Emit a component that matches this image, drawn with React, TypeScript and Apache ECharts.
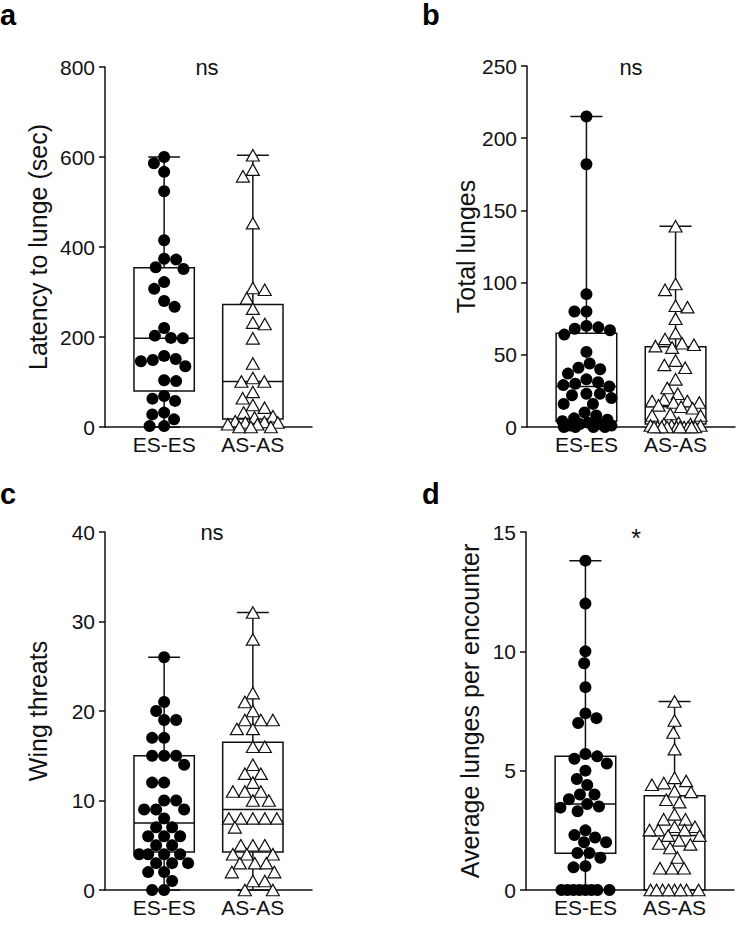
import React, { useEffect, useRef } from "react";
import * as echarts from "echarts";

const groupLabels = ["ES-ES", "AS-AS"];

// Panel a: latency to lunge (sec)
const latencyTicks = [0, 200, 400, 600, 800];
const latencyES = [600, 586, 567, 524, 415, 374, 372, 355, 351, 322, 307, 280, 267, 220, 203, 198, 197, 158, 151, 149, 146, 135, 104, 102, 69, 63, 58, 32, 28, 17, 2, 2];
const latencyAS = [604, 572, 557, 453, 309, 305, 286, 263, 232, 229, 197, 141, 109, 101, 101, 78, 64, 49, 43, 32, 24, 21, 13, 11, 10, 10, 6, 6, 0, 0, 0];
const latencyBoxES = [0, 80, 197, 354, 600]; // min, q1, median, q3, max
const latencyBoxAS = [0, 18, 101, 272, 604];

// Panel b: total lunges
const lungesTicks = [0, 50, 100, 150, 200, 250];
const lungesES = [215, 182, 92, 80, 80, 70, 69, 68, 67, 64, 52, 44, 41, 40, 37, 33, 31, 30, 29, 28, 23, 23, 22, 20, 16, 16, 10, 8, 6, 5, 4, 3, 2, 2, 1, 1, 0, 0, 0, 0];
const lungesAS = [139, 99, 95, 84, 83, 75, 65, 61, 58, 57, 56, 55, 46, 43, 41, 33, 27, 23, 19, 18, 18, 17, 17, 15, 14, 13, 9, 8, 8, 3, 2, 2, 1, 1, 1, 0, 0, 0, 0, 0, 0, 0, 0, 0, 0];
const lungesBoxES = [0, 4, 28, 65, 215];
const lungesBoxAS = [0, 2, 14, 55.5, 139];

// Panel c: wing threats
const threatTicks = [0, 10, 20, 30, 40];
const threatES = [26, 21, 20, 19, 19, 17, 17, 15, 15, 15, 14, 12, 12, 10, 10, 9, 9, 9, 8, 7, 7, 6, 6, 6, 5, 5, 4, 4, 4, 4, 3, 3, 3, 2, 2, 1, 0, 0];
const threatAS = [31, 28, 22, 21, 20, 19, 19, 19, 18, 18, 16, 16, 14, 13, 13, 12, 11, 11, 11, 10, 10, 8, 8, 8, 8, 8, 7, 5, 5, 5, 4, 4, 4, 3, 3, 3, 2, 2, 1, 1, 0, 0];
const threatBoxES = [0, 4.25, 7.5, 15, 26];
const threatBoxAS = [0, 4.25, 9, 16.5, 31];

// Panel d: average lunges per encounter
const avgTicks = [0, 5, 10, 15];
const avgES = [13.8, 12.0, 10.0, 9.5, 8.5, 7.4, 7.2, 7.0, 5.7, 5.6, 5.5, 5.3, 5.0, 4.65, 4.4, 4.0, 4.0, 3.8, 3.6, 3.5, 3.45, 3.3, 2.5, 2.3, 2.2, 2.0, 2.0, 1.55, 1.55, 1.35, 1.0, 0.95, 0, 0, 0, 0, 0, 0, 0, 0];
const avgAS = [7.9, 7.1, 6.6, 5.9, 4.7, 4.57, 4.48, 4.41, 4.14, 4.11, 3.78, 3.68, 3.17, 2.96, 2.96, 2.65, 2.65, 2.51, 2.51, 2.51, 2.28, 2.28, 2.08, 1.95, 1.91, 1.76, 1.36, 0.91, 0.91, 0.91, 0, 0, 0, 0, 0, 0, 0, 0];
const avgBoxES = [0, 1.54, 3.6, 5.6, 13.8];
const avgBoxAS = [0, 0, 2.28, 3.95, 7.9];

const INK = "#111111";
const FONT = "Liberation Sans, Arial, Helvetica, sans-serif";
const X_MIN = 1 / 3;
const X_MAX = 8 / 3;
const BOX_W = 0.68;
const CAP_W = 0.36;

type Panel = {
  letter: string; yName: string; ticks: number[];
  es: number[]; as: number[]; boxES: number[]; boxAS: number[];
  sig: string; left: number; top: number; width: number; height: number;
  nameGap: number; sigX: number; sigY: number; letterX: number; letterY: number;
};

const panels: Panel[] = [
  { letter: "a", yName: "Latency to lunge (sec)", ticks: latencyTicks, es: latencyES, as: latencyAS, boxES: latencyBoxES, boxAS: latencyBoxAS, sig: "ns",
    left: 105, top: 67, width: 207, height: 360, nameGap: 55, sigX: 207, sigY: 67, letterX: 0, letterY: 15 },
  { letter: "b", yName: "Total lunges", ticks: lungesTicks, es: lungesES, as: lungesAS, boxES: lungesBoxES, boxAS: lungesBoxAS, sig: "ns",
    left: 527, top: 66, width: 208, height: 361, nameGap: 44, sigX: 631, sigY: 67, letterX: 422, letterY: 15 },
  { letter: "c", yName: "Wing threats", ticks: threatTicks, es: threatES, as: threatAS, boxES: threatBoxES, boxAS: threatBoxAS, sig: "ns",
    left: 105, top: 532, width: 207, height: 358, nameGap: 55, sigX: 212, sigY: 532, letterX: 0, letterY: 494 },
  { letter: "d", yName: "Average lunges per encounter", ticks: avgTicks, es: avgES, as: avgAS, boxES: avgBoxES, boxAS: avgBoxAS, sig: "*",
    left: 526, top: 532, width: 208, height: 358, nameGap: 44, sigX: 636, sigY: 538, letterX: 422, letterY: 494 },
];

// Greedy beeswarm: horizontal offsets (in x-axis units) so symbols don't overlap.
function swarm(values: number[], pxX: number, pxY: number, diam: number, cap: number): number[] {
  const placed: { x: number; y: number }[] = [];
  const out: number[] = [];
  let toggle = -1;
  for (const v of values) {
    const y = v * pxY;
    const intervals: [number, number][] = [];
    for (const p of placed) {
      const dy = Math.abs(p.y - y);
      if (dy < diam) {
        const w = Math.sqrt(diam * diam - dy * dy);
        intervals.push([p.x - w, p.x + w]);
      }
    }
    const cands: number[] = [0];
    intervals.forEach(([a, b]) => cands.push(a, b));
    const free = cands.filter(
      (c) => Math.abs(c) <= cap + 1e-6 && intervals.every(([a, b]) => c <= a + 1e-6 || c >= b - 1e-6)
    );
    let best = 0;
    if (free.length) {
      free.sort((m, n) => {
        const d = Math.abs(m) - Math.abs(n);
        if (Math.abs(d) > 1e-6) return d;
        return toggle < 0 ? m - n : n - m;
      });
      best = free[0];
      if (Math.abs(best) > 1e-6) toggle = -toggle;
    } else {
      let bestScore = -1;
      for (let c = -cap; c <= cap + 1e-6; c += 0.5) {
        let md = Infinity;
        for (const p of placed) {
          const d = Math.hypot(p.x - c, p.y - y);
          if (d < md) md = d;
        }
        if (md > bestScore + 1e-9) { bestScore = md; best = c; }
      }
    }
    placed.push({ x: best, y });
    out.push(best / pxX);
  }
  return out;
}

function buildOption() {
  const grid: any[] = [];
  const xAxis: any[] = [];
  const yAxis: any[] = [];
  const series: any[] = [];
  const graphic: any[] = [];

  panels.forEach((p, i) => {
    const yMax = p.ticks[p.ticks.length - 1];
    const yInterval = p.ticks[1] - p.ticks[0];
    grid.push({ left: p.left, top: p.top, width: p.width, height: p.height, containLabel: false });
    xAxis.push({
      type: "value", gridIndex: i, min: X_MIN, max: X_MAX, interval: 1 / 3,
      axisLine: { show: true, lineStyle: { color: INK, width: 1.5 } },
      axisTick: { show: false }, splitLine: { show: false },
      axisLabel: {
        show: true, margin: 7, fontSize: 21, color: INK, fontFamily: FONT,
        showMinLabel: true, showMaxLabel: true,
        formatter: (v: number) => (Math.abs(v - 1) < 1e-6 ? groupLabels[0] : Math.abs(v - 2) < 1e-6 ? groupLabels[1] : ""),
      },
    });
    yAxis.push({
      type: "value", gridIndex: i, min: 0, max: yMax, interval: yInterval,
      axisLine: { show: true, lineStyle: { color: INK, width: 1.5 } },
      axisTick: { show: true, length: 6, lineStyle: { color: INK, width: 1.5 } },
      splitLine: { show: false },
      axisLabel: { fontSize: 21, color: INK, fontFamily: FONT, margin: 10 },
      name: p.yName, nameLocation: "middle", nameGap: p.nameGap,
      nameTextStyle: { fontSize: 25, color: INK, fontFamily: FONT },
    });

    const pxX = p.width / (X_MAX - X_MIN);
    const pxY = p.height / yMax;

    series.push({
      type: "custom", xAxisIndex: i, yAxisIndex: i, z: 1, silent: true,
      data: [[1, ...p.boxES], [2, ...p.boxAS]],
      encode: { x: 0, y: [1, 2, 3, 4, 5] },
      renderItem: (_params: any, api: any) => {
        const x = api.value(0);
        const vals = [1, 2, 3, 4, 5].map((k) => api.value(k));
        const [pMin, pQ1, pMd, pQ3, pMx] = vals.map((v) => api.coord([x, v]));
        const halfW = api.size([BOX_W, 0])[0] / 2;
        const capHalf = api.size([CAP_W, 0])[0] / 2;
        const cx = pMin[0];
        const style = { stroke: INK, lineWidth: 1.5, fill: null };
        return {
          type: "group",
          children: [
            { type: "line", shape: { x1: cx, y1: pMx[1], x2: cx, y2: pQ3[1] }, style },
            { type: "line", shape: { x1: cx, y1: pQ1[1], x2: cx, y2: pMin[1] }, style },
            { type: "line", shape: { x1: cx - capHalf, y1: pMx[1], x2: cx + capHalf, y2: pMx[1] }, style },
            { type: "line", shape: { x1: cx - capHalf, y1: pMin[1], x2: cx + capHalf, y2: pMin[1] }, style },
            { type: "rect", shape: { x: cx - halfW, y: pQ3[1], width: 2 * halfW, height: pQ1[1] - pQ3[1] }, style },
            { type: "line", shape: { x1: cx - halfW, y1: pMd[1], x2: cx + halfW, y2: pMd[1] }, style },
          ],
        };
      },
    });

    const offES = swarm(p.es, pxX, pxY, 12, 25);
    const offAS = swarm(p.as, pxX, pxY, 12, 25);
    series.push({
      type: "scatter", xAxisIndex: i, yAxisIndex: i, z: 3, clip: false, silent: true,
      symbol: "circle", symbolSize: 12,
      itemStyle: { color: "#000000", opacity: 1 },
      data: p.es.map((v, k) => [1 + offES[k], v]),
    });
    series.push({
      type: "scatter", xAxisIndex: i, yAxisIndex: i, z: 4, clip: false, silent: true,
      symbol: "triangle", symbolSize: [13, 11.5],
      itemStyle: { color: "#ffffff", borderColor: INK, borderWidth: 1.2, opacity: 1 },
      data: p.as.map((v, k) => [2 + offAS[k], v]),
    });

    graphic.push({
      type: "text", x: p.letterX, y: p.letterY,
      style: { text: p.letter, fontSize: 29, fontWeight: "bold", fill: "#000", fontFamily: FONT, verticalAlign: "middle", textVerticalAlign: "middle" },
    });
    graphic.push({
      type: "text", x: p.sigX, y: p.sigY,
      style: { text: p.sig, fontSize: p.sig === "*" ? 25 : 22, fill: INK, fontFamily: FONT, align: "center", verticalAlign: "middle", textAlign: "center", textVerticalAlign: "middle" },
    });
  });

  return {
    animation: false,
    backgroundColor: "#ffffff",
    textStyle: { fontFamily: FONT },
    grid, xAxis, yAxis, series, graphic,
  };
}

export default function App() {
  const ref = useRef<HTMLDivElement>(null);
  useEffect(() => {
    if (!ref.current) return;
    const chart = echarts.init(ref.current, undefined, { renderer: "svg" });
    chart.setOption(buildOption() as any);
    return () => chart.dispose();
  }, []);
  return (
    <div
      ref={ref}
      style={{ position: "absolute", left: 0, top: 0, width: 746, height: 949, background: "#fff" }}
    />
  );
}
